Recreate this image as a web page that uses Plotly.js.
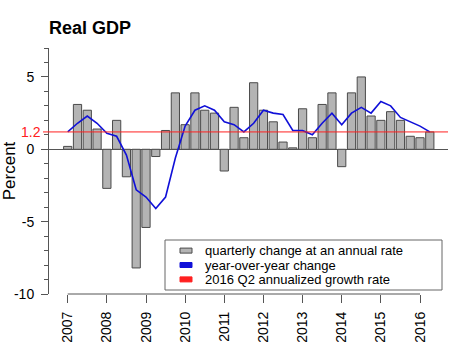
<!DOCTYPE html>
<html><head><meta charset="utf-8">
<script src="https://cdn.plot.ly/plotly-3.0.1.min.js"></script>
<style>html,body{margin:0;padding:0;background:#fff}#chart{width:474px;height:355px}</style>
</head><body><div id="chart"></div>
<script>
// ---- data ----
const quarters = [
  "2007 Q1","2007 Q2","2007 Q3","2007 Q4",
  "2008 Q1","2008 Q2","2008 Q3","2008 Q4",
  "2009 Q1","2009 Q2","2009 Q3","2009 Q4",
  "2010 Q1","2010 Q2","2010 Q3","2010 Q4",
  "2011 Q1","2011 Q2","2011 Q3","2011 Q4",
  "2012 Q1","2012 Q2","2012 Q3","2012 Q4",
  "2013 Q1","2013 Q2","2013 Q3","2013 Q4",
  "2014 Q1","2014 Q2","2014 Q3","2014 Q4",
  "2015 Q1","2015 Q2","2015 Q3","2015 Q4",
  "2016 Q1","2016 Q2"
];
const quarterlyChange = [
  0.2, 3.1, 2.7, 1.4,
  -2.7, 2.0, -1.9, -8.2,
  -5.4, -0.5, 1.3, 3.9,
  1.7, 3.9, 2.7, 2.5,
  -1.5, 2.9, 0.8, 4.6,
  2.7, 1.9, 0.5, 0.1,
  2.8, 0.8, 3.1, 3.9,
  -1.2, 3.9, 5.0, 2.3,
  2.0, 2.6, 2.0, 0.9,
  0.8, 1.2
];
const yoyChange = [
  1.2, 1.8, 2.3, 1.8,
  1.1, 0.9, -0.4, -2.8,
  -3.3, -4.1, -3.3, -0.6,
  1.6, 2.7, 3.0, 2.7,
  1.9, 1.7, 1.2, 1.8,
  2.7, 2.5, 2.4, 1.3,
  1.3, 1.0, 1.8, 2.5,
  1.7, 2.5, 2.9, 2.5,
  3.3, 3.0, 2.2, 1.9,
  1.6, 1.2
];
const latestRate = 1.2;
const latestRateLabel = "1.2";
const yearTicks = [2007, 2008, 2009, 2010, 2011, 2012, 2013, 2014, 2015, 2016];
const yearTickLabels = ["2007","2008","2009","2010","2011","2012","2013","2014","2015","2016"];
const yTickVals = [-10, -5, 0, 5];
const yTickLabels = ["-10", "-5", "0", "5"];
const legendLabels = ["quarterly change at an annual rate", "year-over-year change", "2016 Q2 annualized growth rate"];
const titleText = "Real GDP";
const yTitleText = "Percent";

// ---- layout helpers ----
const W = 474, H = 355, ML = 49, MR = 26, MT = 48, MB = 61;
const PW = W - ML - MR, PH = H - MT - MB;
const px = x => (x - ML) / PW;
const py = y => (H - MB - y) / PH;
const FONT = "Arial, 'Liberation Sans', sans-serif";
const AXIS_COLOR = "#555555";
const BAR_FILL = "#b4b4b4", BAR_EDGE = "#4a4a4a";
const BLUE = "#1010d8", RED = "#ff2020";

function quarterToX(label) {
  const parts = label.split(" Q");
  return Number(parts[0]) + (Number(parts[1]) - 1) / 4;
}
const xs = quarters.map(quarterToX);

const traces = [
  {
    type: "bar", x: xs, y: quarterlyChange, width: 0.21,
    marker: {color: BAR_FILL, line: {color: BAR_EDGE, width: 1}},
    name: legendLabels[0], showlegend: false, hoverinfo: "skip"
  },
  {
    type: "scatter", mode: "lines", x: xs, y: yoyChange,
    line: {color: BLUE, width: 1.6},
    name: legendLabels[1], showlegend: false, hoverinfo: "skip"
  }
];

const legendColors = [BAR_FILL, BLUE, RED];
const legendEdges = [BAR_EDGE, BLUE, RED];
const rowY = [250.6, 265, 279.4];

const shapes = [
  // red reference line with tick into the axis margin
  {type: "line", xref: "paper", xsizemode: "pixel", xanchor: 0, x0: -6, x1: PW,
   yref: "y", y0: latestRate, y1: latestRate, line: {color: RED, width: 1}},
  // x-axis line spanning first to last year tick
  {type: "line", xref: "x", x0: yearTicks[0], x1: yearTicks[yearTicks.length - 1],
   yref: "paper", y0: 0, y1: 0, line: {color: AXIS_COLOR, width: 1}},
  // legend box
  {type: "rect", xref: "paper", yref: "paper", x0: px(165), x1: px(442), y0: py(290), y1: py(240),
   line: {color: "#666666", width: 1}, fillcolor: "rgba(255,255,255,1)", layer: "above"}
];
const annotations = [
  {xref: "paper", yref: "y", x: 0, y: latestRate, xanchor: "right", yanchor: "middle",
   xshift: -6, text: latestRateLabel, showarrow: false, font: {family: FONT, size: 14, color: RED}}
];
legendLabels.forEach((lab, i) => {
  shapes.push({type: "rect", xref: "paper", yref: "paper", layer: "above",
    x0: px(180), x1: px(192), y0: py(rowY[i] + 2.5), y1: py(rowY[i] - 2.5),
    fillcolor: legendColors[i], line: {color: legendEdges[i], width: 1}});
  annotations.push({xref: "paper", yref: "paper", x: px(204), y: py(rowY[i]),
    xanchor: "left", yanchor: "middle", text: lab, showarrow: false, borderpad: 0,
    font: {family: FONT, size: 13, color: "#000"}});
});

const layout = {
  width: W, height: H,
  margin: {l: ML, r: MR, t: MT, b: MB, pad: 0},
  paper_bgcolor: "#fff", plot_bgcolor: "#fff",
  font: {family: FONT, size: 14, color: "#000"},
  showlegend: false,
  title: {text: "<b>" + titleText + "</b>", x: 0, xref: "paper", xanchor: "left",
          y: 1 - 28 / H, yref: "container", yanchor: "middle",
          font: {family: FONT, size: 18, color: "#000"}},
  xaxis: {
    range: [2006.522, 2016.715], showgrid: false, zeroline: false, showline: false,
    tickmode: "array", tickvals: yearTicks, ticktext: yearTickLabels, tickangle: -90,
    ticks: "outside", ticklen: 8, tickcolor: AXIS_COLOR, tickwidth: 1,
    ticklabelstandoff: 3,
    tickfont: {family: FONT, size: 14, color: "#000"}
  },
  yaxis: {
    range: [-10, 7], showgrid: false,
    zeroline: true, zerolinecolor: AXIS_COLOR, zerolinewidth: 1,
    showline: true, linecolor: AXIS_COLOR, linewidth: 1,
    tickmode: "array", tickvals: yTickVals, ticktext: yTickLabels,
    ticks: "outside", ticklen: 7, tickcolor: AXIS_COLOR, tickwidth: 1,
    ticklabelstandoff: 4,
    minor: {tickmode: "linear", tick0: 0, dtick: 1, ticks: "outside", ticklen: 4, tickcolor: AXIS_COLOR, tickwidth: 1, showgrid: false},
    tickfont: {family: FONT, size: 14, color: "#000"},
    title: {text: yTitleText, standoff: 6, font: {family: FONT, size: 17, color: "#000"}}
  },
  bargap: 0,
  shapes: shapes,
  annotations: annotations
};

Plotly.newPlot("chart", traces, layout, {staticPlot: true, displayModeBar: false});
</script>
</body></html>
